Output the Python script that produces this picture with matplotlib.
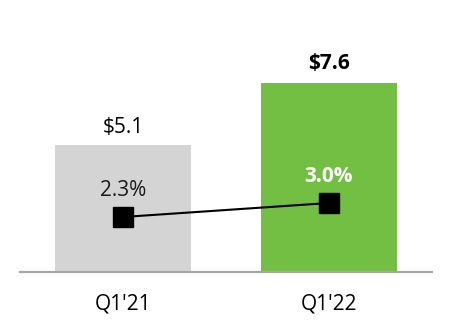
import matplotlib
matplotlib.use("Agg")
import matplotlib.pyplot as plt

categories = ["Q1'21", "Q1'22"]
revenue = [5.1, 7.6]
revenue_labels = ["$5.1", "$7.6"]
margin = [2.3, 3.0]
margin_labels = ["2.3%", "3.0%"]

plt.rcParams['font.family'] = ['Open Sans', 'DejaVu Sans']

fig = plt.figure(figsize=(4.52, 3.32), dpi=100)
ax = fig.add_axes([20/452, 60.5/332, 412/452, 271.5/332])
x = list(range(len(categories)))
bar_colors = ['#d4d4d4', '#72bf44']
ax.bar(x, revenue, width=0.66, color=bar_colors)
ax.set_xlim(-0.5, 1.5)
ax.set_ylim(0, 10.95)
for s in ['top', 'right', 'left']:
    ax.spines[s].set_visible(False)
ax.spines['bottom'].set_color('#a6a6a6')
ax.spines['bottom'].set_linewidth(1.6)
ax.set_yticks([])
ax.set_xticks(x)
ax.set_xticklabels(categories, fontsize=15)
ax.tick_params(axis='x', length=0, pad=15.5)

weights = ['normal', 'bold']
offsets = [5, 6.5]
for i, (v, lab) in enumerate(zip(revenue, revenue_labels)):
    ax.annotate(lab, (i, v), xytext=(0, offsets[i]), textcoords='offset points',
                ha='center', va='bottom', fontsize=15, fontweight=weights[i], color='black')

ax2 = ax.twinx()
ax2.set_ylim(-0.425, 13.15)
ax2.axis('off')
ax2.plot(x, margin, color='black', lw=1.5, marker='s', markersize=14.5)
txt_colors = ['#1a1a1a', 'white']
for i, (v, lab) in enumerate(zip(margin, margin_labels)):
    ax2.annotate(lab, (i, v), xytext=(0, 11.5), textcoords='offset points',
                 ha='center', va='bottom', fontsize=15, fontweight=weights[i], color=txt_colors[i])

fig.savefig('out.png', dpi=100)
